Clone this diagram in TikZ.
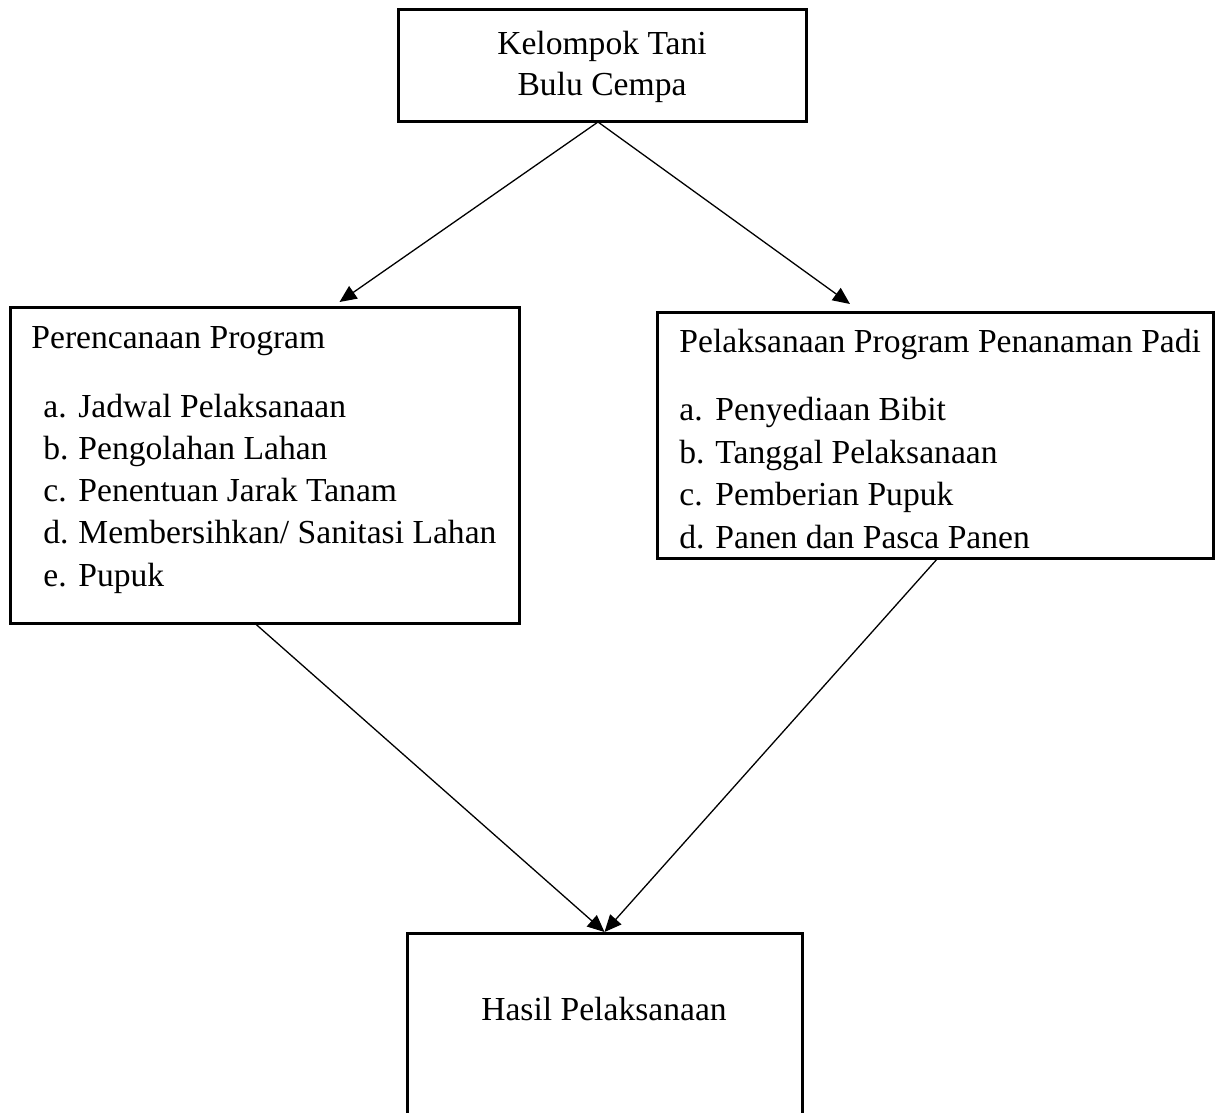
\documentclass[tikz,border=0pt]{standalone}
\usepackage{fontspec}
\setmainfont{Liberation Serif}
\usetikzlibrary{arrows.meta}

\tikzset{
	box/.style={draw,line width=1.5pt,inner sep=0pt,outer sep=0pt,anchor=north west},
	txt/.style={inner sep=0pt,anchor=base west,font=\fontsize{16.8pt}{21pt}\selectfont},
	ctxt/.style={txt,anchor=base},
	arr/.style={line width=0.65pt,-{Triangle[length=8.5pt,width=7.5pt]}}
}

\begin{document}
\begin{tikzpicture}[x=0.5pt,y=-0.5pt]
		\useasboundingbox (0,0) rectangle (1218,1112);

		% boxes
		\node[box,minimum width=204pt,minimum height=56pt] (kel) at (398,10) {};
		\node[box,minimum width=254.5pt,minimum height=158pt] (ren) at (10,307) {};
		\node[box,minimum width=278pt,minimum height=123pt] (pel) at (657,312) {};
		\node[box,minimum width=197.5pt,minimum height=100pt] (has) at (407,933) {};

		% top box
		\node[ctxt] (kel1) at (602,55) {Kelompok Tani};
		\node[ctxt] (kel2) at (602,96) {Bulu Cempa};

		% left box
		\node[txt] (renT) at (31,348) {Perencanaan Program};
		\node[txt] (renA) at (43,417) {a.};
		\node[txt] (renAt) at (78,417) {Jadwal Pelaksanaan};
		\node[txt] (renB) at (43,459) {b.};
		\node[txt] (renBt) at (78,459) {Pengolahan Lahan};
		\node[txt] (renC) at (43,501) {c.};
		\node[txt] (renCt) at (78,501) {Penentuan Jarak Tanam};
		\node[txt] (renD) at (43,543) {d.};
		\node[txt] (renDt) at (78,543) {Membersihkan/ Sanitasi Lahan};
		\node[txt] (renE) at (43,586) {e.};
		\node[txt] (renEt) at (78,586) {Pupuk};

		% right box
		\node[txt] (pelT) at (679,352) {Pelaksanaan Program Penanaman Padi};
		\node[txt] (pelA) at (679,420) {a.};
		\node[txt] (pelAt) at (715,420) {Penyediaan Bibit};
		\node[txt] (pelB) at (679,463) {b.};
		\node[txt] (pelBt) at (715,463) {Tanggal Pelaksanaan};
		\node[txt] (pelC) at (679,505) {c.};
		\node[txt] (pelCt) at (715,505) {Pemberian Pupuk};
		\node[txt] (pelD) at (679,548) {d.};
		\node[txt] (pelDt) at (715,548) {Panen dan Pasca Panen};

		% bottom box
		\node[ctxt] (hasT) at (604,1020) {Hasil Pelaksanaan};

		% arrows
		\draw[arr] ([xshift=-2pt]kel.south) -- ([xshift=37.5pt,yshift=2.5pt]ren.north);
		\draw[arr] ([xshift=-2pt]kel.south) -- ([xshift=-42.5pt,yshift=4pt]pel.north);
		\draw[arr] ([xshift=-5pt]ren.south) -- ([yshift=0.5pt]has.north);
		\draw[arr] ([xshift=1.5pt]pel.south) -- ([yshift=0.5pt]has.north);
	\end{tikzpicture}
\end{document}
